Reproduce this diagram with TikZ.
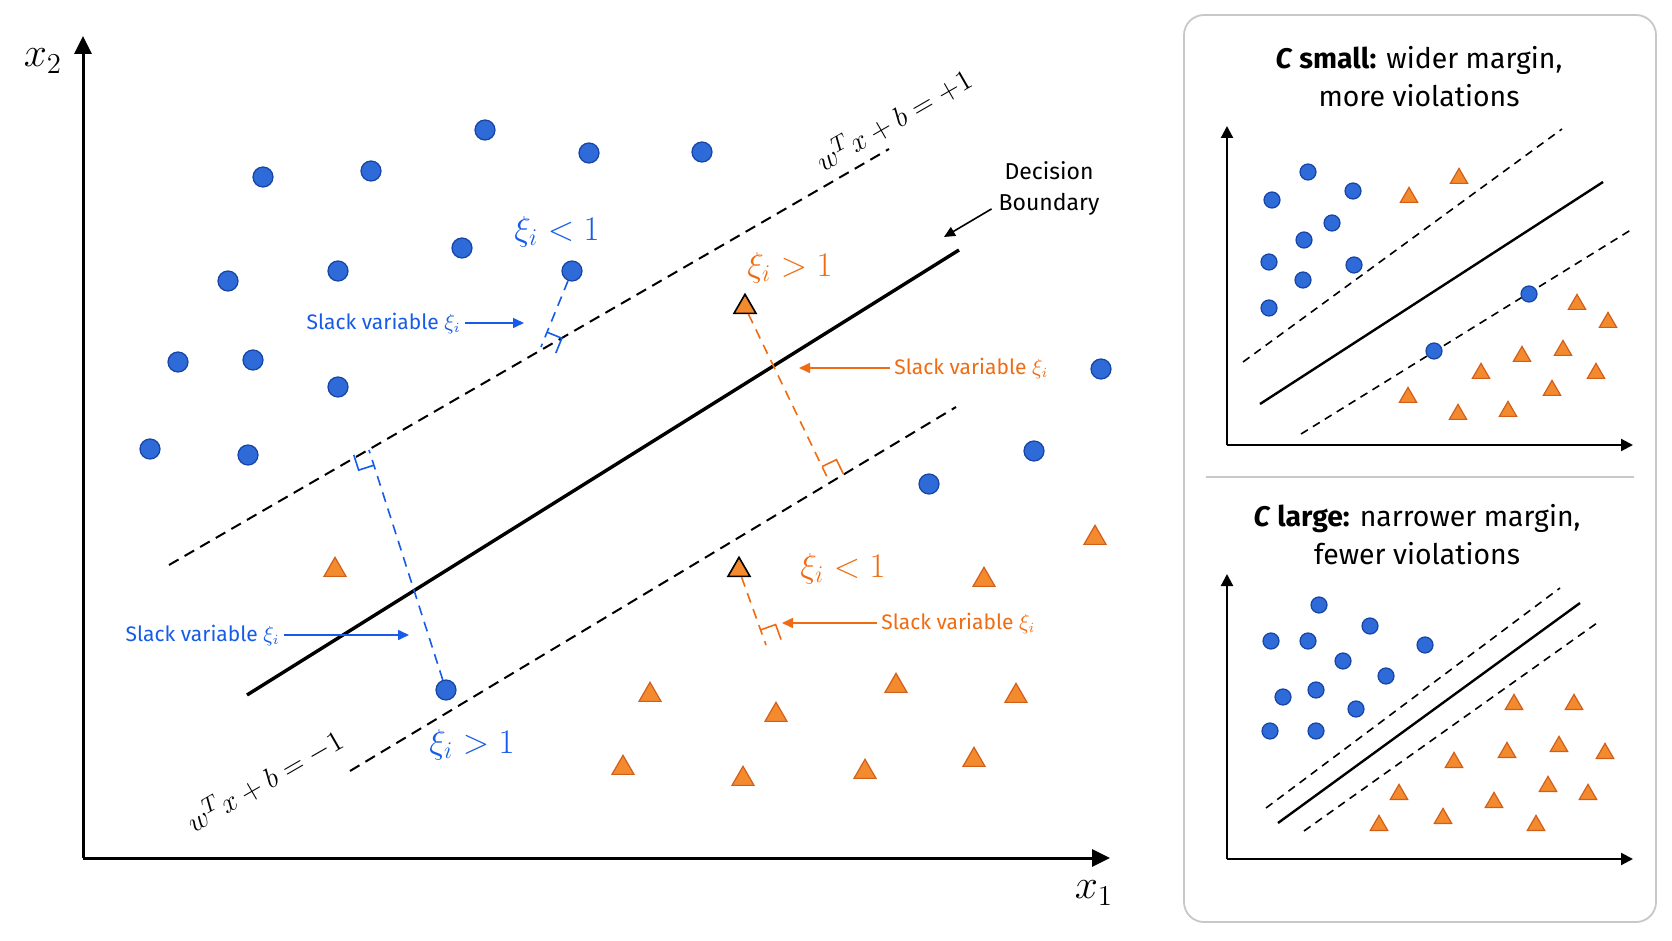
\documentclass[tikz,border=0pt]{standalone}
\usepackage{fontspec}
\setmainfont{Fira Sans}
\usepackage{amsmath}
\usetikzlibrary{arrows.meta, calc, positioning, shapes.geometric}

\definecolor{dotblue}{RGB}{46,106,216}
\definecolor{dotedge}{RGB}{22,68,165}
\definecolor{triorange}{RGB}{243,138,46}
\definecolor{triedge}{RGB}{210,95,25}
\definecolor{slackblue}{RGB}{22,92,232}
\definecolor{slackorange}{RGB}{240,108,18}
\definecolor{panelgray}{RGB}{200,200,200}

% right-angle mark: foot, point, side, colour
\newcommand{\perpmark}[4]{%
  \coordinate (pmq) at ($(#1)!8pt!(#2)$);
  \coordinate (pmr) at ($(#1)!8pt!#3:(#2)$);
  \draw[#4, line width=0.8pt] (pmq) -- ($(pmq)+(pmr)-(#1)$) -- (pmr);}

\begin{document}
\begin{tikzpicture}[
    x=0.5pt, y=-0.5pt,
    dotb/.style={circle, draw=dotedge, fill=dotblue, line width=0.6pt,
        minimum size=10pt, inner sep=0pt},
    tri/.style={regular polygon, regular polygon sides=3, draw=triedge,
        fill=triorange, line width=0.6pt, minimum size=12.7pt, inner sep=0pt,
        yshift=-1.5pt},
    dotsm/.style={dotb, minimum size=8pt},
    trism/.style={tri, minimum size=10pt, yshift=-1.2pt},
    axis/.style={line width=1.5pt, -{Triangle[length=9pt,width=8.5pt]}},
    axissm/.style={line width=1.1pt, -{Triangle[length=6pt,width=6pt]}},
    boundary/.style={line width=1.7pt},
    boundarysm/.style={line width=1.2pt},
    margin/.style={line width=1pt, dash pattern=on 5.5pt off 3.5pt},
    marginsm/.style={line width=0.8pt, dash pattern=on 4pt off 3pt},
    slackb/.style={slackblue, line width=0.8pt, dash pattern=on 5pt off 3.5pt},
    slacko/.style={slackorange, line width=0.8pt, dash pattern=on 5pt off 3.5pt},
    pointer/.style={-{Triangle[length=5.5pt,width=5pt]}, line width=0.8pt},
    lbl/.style={font=\fontsize{10.5}{12}\selectfont, inner sep=2pt},
    xilbl/.style={font=\fontsize{16.5}{19}\selectfont},
    eqlbl/.style={font=\fontsize{15}{18}\selectfont, rotate=30},
    title/.style={align=center, font=\fontsize{14.2}{19}\selectfont}
]
\fill[white] (0,0) rectangle (1672,941);
\useasboundingbox (0,0) rectangle (1672,941);

% main plot
\coordinate (o) at (83,858);
\coordinate (ytip) at (83,36);
\coordinate (xtip) at (1110,858);
\draw[axis] (o) -- (ytip);
\draw[axis] (o) -- (xtip);
\node[font=\fontsize{20}{24}\selectfont] (x2) at (43,61) {$x_2$};
\node[font=\fontsize{20}{24}\selectfont] (x1) at (1094,893) {$x_1$};

\coordinate (up1) at (169,565);
\coordinate (up2) at (889,149);
\coordinate (db1) at (247,695);
\coordinate (db2) at (959,250);
\coordinate (lo1) at (350,771);
\coordinate (lo2) at (956,407);
\draw[margin] (up1) -- (up2);
\draw[boundary] (db1) -- (db2);
\draw[margin] (lo1) -- (lo2);

\foreach \px/\py [count=\i] in {263/177, 371/171, 485/130, 589/153, 702/152,
    228/281, 338/271, 462/248, 178/362, 253/360, 338/387, 150/449, 248/455,
    1101/369, 1034/451, 929/484}
  \node[dotb] (b\i) at (\px,\py) {};
\foreach \px/\py [count=\i] in {335/567, 984/577, 1095/535, 650/692, 776/712,
    896/683, 1016/693, 623/765, 743/776, 865/769, 974/757}
  \node[tri] (t\i) at (\px,\py) {};

\node[dotb] (bin) at (572,271) {};
\node[dotb] (bout) at (446,690) {};
\node[tri, draw=black, line width=0.8pt] (tout) at (745,304) {};
\node[tri, draw=black, line width=0.8pt] (tin) at (739,567) {};

\coordinate (f1) at (541,347);
\coordinate (f2) at (369,450);
\coordinate (f3) at (829,481);
\coordinate (f4) at (766,645);
\draw[slackb] (bin) -- (f1);
\draw[slackb] (bout) -- (f2);
\draw[slacko] (tout) -- (f3);
\draw[slacko] (tin) -- (f4);
\perpmark{f1}{bin}{-90}{slackblue}
\perpmark{f2}{bout}{-90}{slackblue}
\perpmark{f3}{tout}{-90}{slackorange}
\perpmark{f4}{tin}{-90}{slackorange}

\node[xilbl, text=slackblue] (xb1) at (557,232) {$\xi_i < 1$};
\node[xilbl, text=slackorange] (xo1) at (790,268) {$\xi_i > 1$};
\node[xilbl, text=slackblue] (xb2) at (472,745) {$\xi_i > 1$};
\node[xilbl, text=slackorange] (xo2) at (843,569) {$\xi_i < 1$};

\coordinate (p1) at (524,323);
\coordinate (p2) at (409,635);
\coordinate (p3) at (799,368);
\coordinate (p4) at (782,623);
\node[lbl, text=slackblue, left=29.5pt of p1] (s1) {Slack variable $\xi_i$};
\node[lbl, text=slackblue, left=62.5pt of p2] (s2) {Slack variable $\xi_i$};
\node[lbl, text=slackorange, right=45.5pt of p3] (s3) {Slack variable $\xi_i$};
\node[lbl, text=slackorange, right=47.5pt of p4] (s4) {Slack variable $\xi_i$};
\draw[pointer, slackblue] (s1) -- (p1);
\draw[pointer, slackblue] (s2) -- (p2);
\draw[pointer, slackorange] (s3) -- (p3);
\draw[pointer, slackorange] (s4) -- (p4);

\node[eqlbl] (eqp) at (893,119) {$w^T x + b = +1$};
\node[eqlbl] (eqm) at (264,780) {$w^T x + b = -1$};

\node[align=center, font=\fontsize{11.5}{15.5}\selectfont] (dbl) at (1049,188)
    {Decision\\Boundary};
\coordinate (dbtip) at (944,237);
\draw[pointer] (dbl.200) -- (dbtip);

% side panel
\draw[panelgray, line width=0.9pt, rounded corners=10pt] (1184,15) rectangle (1656,922);
\coordinate (sep1) at (1206,477);
\coordinate (sep2) at (1634,477);
\draw[panelgray, line width=0.9pt] (sep1) -- (sep2);

\node[title] (tsmall) at (1419,77) {\textbf{\textit{C} small:} wider margin,\\more violations};
\coordinate (so) at (1227,445);
\coordinate (sy) at (1227,126);
\coordinate (sx) at (1633,445);
\draw[axissm] (so) -- (sy);
\draw[axissm] (so) -- (sx);
\coordinate (sd1) at (1260,404);
\coordinate (sd2) at (1603,182);
\coordinate (su1) at (1243,362);
\coordinate (su2) at (1562,129);
\coordinate (sl1) at (1301,434);
\coordinate (sl2) at (1634,228);
\draw[boundarysm] (sd1) -- (sd2);
\draw[marginsm] (su1) -- (su2);
\draw[marginsm] (sl1) -- (sl2);
\foreach \px/\py [count=\i] in {1308/172, 1272/200, 1353/191, 1332/223, 1304/240,
    1269/262, 1354/265, 1303/280, 1269/308, 1529/294, 1434/351}
  \node[dotsm] (sb\i) at (\px,\py) {};
\foreach \px/\py [count=\i] in {1409/192, 1459/173, 1577/299, 1608/317, 1522/351,
    1563/345, 1481/368, 1596/368, 1552/385, 1408/392, 1458/409, 1508/406}
  \node[trism] (st\i) at (\px,\py) {};

\node[title] (tlarge) at (1417,535) {\textbf{\textit{C} large:} narrower margin,\\fewer violations};
\coordinate (lo) at (1227,859);
\coordinate (ly) at (1227,574);
\coordinate (lx) at (1633,859);
\draw[axissm] (lo) -- (ly);
\draw[axissm] (lo) -- (lx);
\coordinate (ld1) at (1278,823);
\coordinate (ld2) at (1580,603);
\coordinate (lu1) at (1266,808);
\coordinate (lu2) at (1560,588);
\coordinate (ll1) at (1304,831);
\coordinate (ll2) at (1597,623);
\draw[boundarysm] (ld1) -- (ld2);
\draw[marginsm] (lu1) -- (lu2);
\draw[marginsm] (ll1) -- (ll2);
\foreach \px/\py [count=\i] in {1319/605, 1271/641, 1308/641, 1370/626, 1425/645,
    1343/661, 1386/676, 1283/697, 1316/690, 1356/709, 1270/731, 1316/731}
  \node[dotsm] (lb\i) at (\px,\py) {};
\foreach \px/\py [count=\i] in {1514/699, 1574/699, 1507/747, 1559/741, 1605/748,
    1454/757, 1548/781, 1588/789, 1399/789, 1494/797, 1443/813, 1379/820, 1536/820}
  \node[trism] (lt\i) at (\px,\py) {};
\end{tikzpicture}
\end{document}
